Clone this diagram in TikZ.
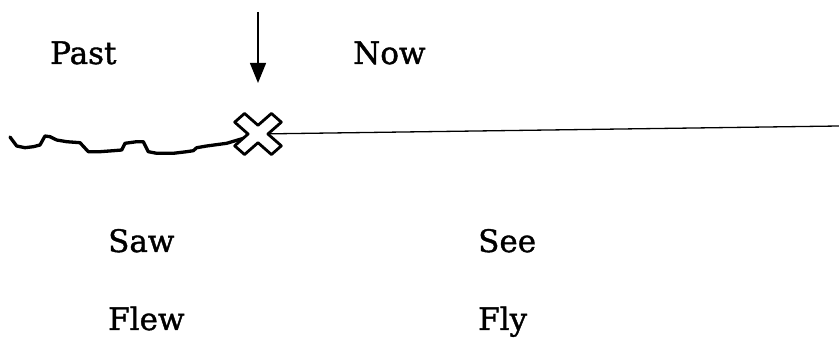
\documentclass[tikz,border=0pt]{standalone}
\usepackage{fontspec}
\setmainfont[FakeBold=1.2]{DejaVu Serif}
\usetikzlibrary{arrows.meta}
\begin{document}
\begin{tikzpicture}[x=1pt,y=-1pt,
  lbl/.style={anchor=base west,inner sep=0pt,font=\fontsize{31}{31}\selectfont\bfseries},
  squig/.style={line width=3.3pt,line join=round,line cap=round},
  thin/.style={line width=1.3pt},
  cross/.style={line width=2.8pt,line join=round,fill=white}]
\useasboundingbox (0,0) rectangle (839,339);
\node[lbl] (past) at (50,64) {\mdseries Past};
\node[lbl] (now) at (353,64) {\mdseries Now};
\node[lbl] (saw) at (108,252) {\mdseries Saw};
\node[lbl] (see) at (478,252) {\mdseries See};
\node[lbl] (flew) at (108,330) {\mdseries Flew};
\node[lbl] (fly) at (478,330) {\mdseries Fly};
\coordinate (xc) at (258,134);
\coordinate (top) at (258,12);
\coordinate (tip) at (258,83);
\coordinate (left) at (10,137);
\coordinate (right) at (839,126);
% arrow
\draw[thin,-{Triangle[width=16pt,length=20pt]}] (top) -- (tip);
% timeline right
\draw[thin] (xc) -- (right);
% squiggle
\draw[squig] (left) -- (16.7,146) -- (25,147.7) -- (33.3,146.7) -- (40,145) -- (45,136) -- (50,136.7) -- (56.7,140) -- (66.7,141.7) -- (80,142.7) -- (88.3,151.7) -- (100,151.7) -- (113.3,150.7) -- (121.7,150) -- (125,143.3) -- (136.7,141.7) -- (143.3,141.7) -- (148.3,151.7) -- (156.7,153.3) -- (173.3,153.3) -- (186.7,151.7) -- (193.3,150.7) -- (196.7,147.7) -- (206.7,146) -- (226.7,143.3) -- (xc);
% cross
\begin{scope}[shift={(xc)},yscale=0.88,rotate=45]
\draw[cross] (7,7) -- (26,7) -- (26,-7) -- (7,-7) -- (7,-26) -- (-7,-26) -- (-7,-7) -- (-26,-7) -- (-26,7) -- (-7,7) -- (-7,26) -- (7,26) -- cycle;
\end{scope}
\end{tikzpicture}
\end{document}
